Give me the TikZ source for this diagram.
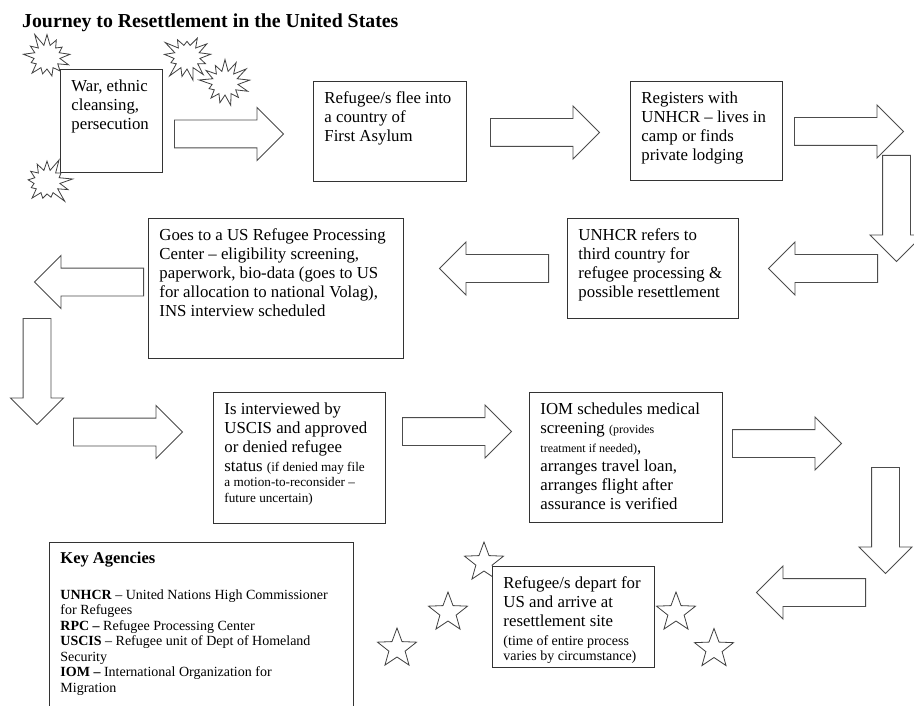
\documentclass[tikz,border=0pt]{standalone}
\usepackage{fontspec}
\setmainfont{Liberation Serif}
\usetikzlibrary{shapes.arrows, shapes.geometric, shapes.symbols}

\newcommand{\bodyfont}{\fontsize{16.8}{19}\selectfont}
\newcommand{\smallfont}{\fontsize{13.2}{15.5}\selectfont}
\newcommand{\notefont}{\fontsize{14}{15}\selectfont}
\newcommand{\tinyfont}{\fontsize{12}{13}\selectfont}
\newcommand{\keyfont}{\fontsize{14}{15.5}\selectfont}
% text block of a box: width, height, lines (kept at the top)
\newcommand{\boxtext}[3]{\parbox[t][#2][t]{#1}{\raggedright #3}}

\begin{document}
\begin{tikzpicture}[x=1pt, y=-1pt,
    box/.style={draw=black!80, line width=0.9pt, fill=white, anchor=north west,
      inner xsep=11pt, inner ysep=10pt, font=\bodyfont},
    blockarrow/.style={single arrow, draw=black!70, line width=0.9pt, fill=white,
      minimum height=109pt, inner xsep=0pt, inner ysep=13.5pt,
      single arrow head extend=12.5pt, single arrow tip angle=90, anchor=tail},
    toleft/.style={blockarrow, rotate=180},
    todown/.style={blockarrow, rotate=-90, minimum height=106pt},
    burst/.style={starburst, draw=black!75, fill=white, line width=0.8pt,
      minimum width=54pt, minimum height=52pt, starburst point height=14pt,
      starburst points=13, inner sep=0pt},
    outline star/.style={star, star points=5, star point ratio=2.4, draw=black!75,
      line width=0.8pt, fill=white, minimum size=41pt, inner sep=0pt}]

  \useasboundingbox (0,0) rectangle (914,706);

  \node[anchor=base west, inner sep=0pt, font=\fontsize{19.8}{24}\selectfont\bfseries] (title) at (22,28)
    {Journey to Resettlement in the United States};

  % first row
  \node[box] (war) at (60,69) {\boxtext{80pt}{83pt}{War, ethnic\\ cleansing,\\ persecution}};
  \node[burst, random starburst=11] (b1) at (47,57) {};
  \node[burst, random starburst=23] (b2) at (187,57) {};
  \node[burst, random starburst=37] (b3) at (225,83) {};
  \node[burst, random starburst=51] (b4) at (47,182) {};
  \node[box] (flee) at (313,81) {\boxtext{131pt}{80pt}{Refugee/s flee into\\ a country of\\ First Asylum}};
  \node[box] (register) at (630,81) {\boxtext{130pt}{79pt}{Registers with\\ UNHCR -- lives in\\ camp or finds\\ private lodging}};

  % second row
  \node[box] (refer) at (567,218) {\boxtext{149pt}{80pt}{UNHCR refers to\\ third country for\\ refugee processing \&\\ possible resettlement}};
  \node[box] (rpc) at (148,218) {\boxtext{233pt}{120pt}{Goes to a US Refugee Processing\\ Center -- eligibility screening,\\ paperwork, bio-data (goes to US\\ for allocation to national Volag),\\ INS interview scheduled}};

  % third row
  \node[box] (interview) at (213,392) {\boxtext{150pt}{111pt}{Is interviewed by\\ USCIS and approved\\ or denied refugee\\ status {\smallfont (if denied may file}\\ {\smallfont a motion-to-reconsider --\\ future uncertain)\par}}};
  \node[box] (iom) at (529,392) {\boxtext{171pt}{110pt}{IOM schedules medical\\ screening {\tinyfont (provides}\\ {\tinyfont treatment if needed)},\\ arranges travel loan,\\ arranges flight after\\ assurance is verified}};

  % last row
  \node[outline star] (s1) at (484,562.5) {};
  \node[outline star] (s2) at (448,612.5) {};
  \node[outline star] (s3) at (397,648.5) {};
  \node[outline star] (s4) at (676,612.5) {};
  \node[outline star] (s5) at (714,649) {};
  \node[box] (depart) at (492,566) {\boxtext{140pt}{81pt}{Refugee/s depart for\\ US and arrive at\\ resettlement site\\ {\notefont (time of entire process}\\ {\notefont varies by circumstance)\par}}};
  \node[box] (key) at (49,542) {\boxtext{282pt}{150pt}{{\fontsize{16.5}{19}\selectfont\bfseries Key Agencies\par}\vspace{20pt}
    {\keyfont \textbf{UNHCR} -- United Nations High Commissioner\\ for Refugees\\
    \textbf{RPC --} Refugee Processing Center\\
    \textbf{USCIS} -- Refugee unit of Dept of Homeland\\ Security\\
    \textbf{IOM --} International Organization for\\ Migration\par}}};

  % block arrows
  \node[blockarrow] (a1) at (174,134) {};
  \node[blockarrow] (a2) at (490,132.5) {};
  \node[blockarrow] (a3) at (794,131.5) {};
  \node[todown] (a4) at (896.5,155) {};
  \node[toleft] (a5) at (878,268.5) {};
  \node[toleft] (a6) at (549,268.5) {};
  \node[toleft] (a7) at (144,282) {};
  \node[todown] (a8) at (37,318) {};
  \node[blockarrow] (a9) at (73,432) {};
  \node[blockarrow] (a10) at (402,431.5) {};
  \node[blockarrow] (a11) at (732,443.5) {};
  \node[todown] (a12) at (885.5,467) {};
  \node[toleft] (a13) at (866,592.5) {};
\end{tikzpicture}
\end{document}
